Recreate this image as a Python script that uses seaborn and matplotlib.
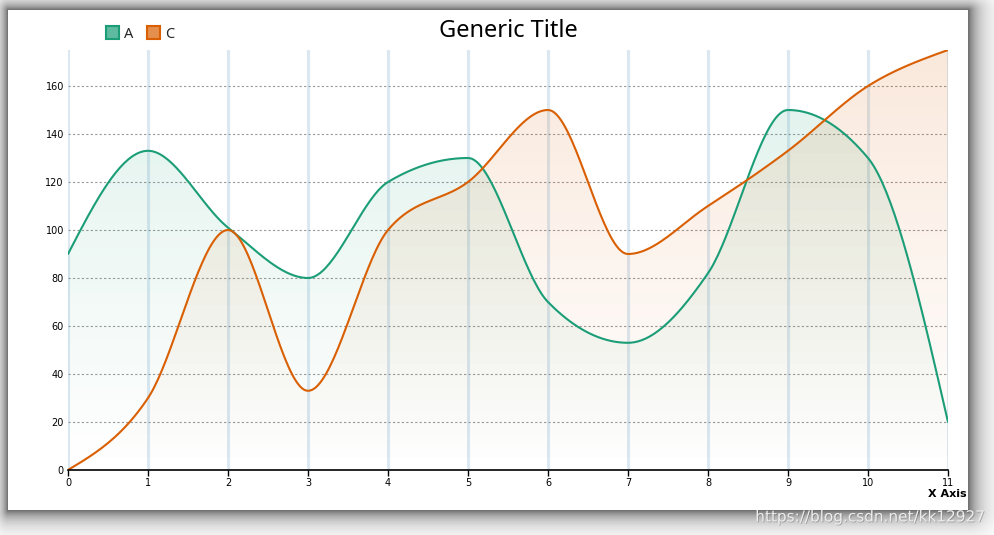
import numpy as np
import pandas as pd
import matplotlib
matplotlib.use('Agg')
import matplotlib.pyplot as plt
import seaborn as sns
from matplotlib.patches import Patch
from matplotlib.colors import to_rgb
import matplotlib.patheffects as pe

x_vals = list(range(12))
a_vals = [90, 133, 101, 80, 120, 130, 70, 53, 82, 150, 130, 20]
c_vals = [0, 30, 100, 33, 100, 120, 150, 90, 110, 133, 160, 175]
series_names = ['A', 'C']
y_ticks = [0, 20, 40, 60, 80, 100, 120, 140, 160]

palette = sns.color_palette('Dark2', 2)
col_a, col_c = palette[0], palette[1]


def monotone_curve(x, y, steps=40):
    # d3 style monotoneX, only used to draw the smooth line
    x = np.asarray(x, float)
    y = np.asarray(y, float)
    h = np.diff(x)
    s = np.diff(y) / h
    t = np.zeros(len(x))
    sgn = lambda v: -1.0 if v < 0 else 1.0
    for i in range(1, len(x) - 1):
        s0, s1 = s[i - 1], s[i]
        p = (s0 * h[i] + s1 * h[i - 1]) / (h[i - 1] + h[i])
        t[i] = (sgn(s0) + sgn(s1)) * min(abs(s0), abs(s1), 0.5 * abs(p))
    t[0] = (3 * s[0] - t[1]) / 2
    t[-1] = (3 * s[-1] - t[-2]) / 2
    xs, ys = [], []
    for i in range(len(x) - 1):
        u = np.linspace(0, 1, steps, endpoint=(i == len(x) - 2))
        h00 = 2 * u**3 - 3 * u**2 + 1
        h10 = u**3 - 2 * u**2 + u
        h01 = -2 * u**3 + 3 * u**2
        h11 = u**3 - u**2
        xs.append(x[i] + u * h[i])
        ys.append(h00 * y[i] + h10 * h[i] * t[i] + h01 * y[i + 1] + h11 * h[i] * t[i + 1])
    return np.concatenate(xs), np.concatenate(ys)


sns.set_theme(style='white')
plt.rcParams['font.family'] = ['DejaVu Sans']

W, H = 995, 535
fig = plt.figure(figsize=(W / 100, H / 100), dpi=100)
fig.patch.set_facecolor('white')

# window shadow around the white panel (panel: x 8..968, y 10..510 in pixels)
cols = np.arange(W)[None, :] + 0.5
rows = np.arange(H)[:, None] + 0.5
dx = np.maximum(np.maximum((8 - cols) / 8.0, (cols - 968) / 13.0), 0)
dy = np.maximum(np.maximum((10 - rows) / 9.0, (rows - 510) / 12.0), 0)
dist = np.sqrt(dx**2 + dy**2)
shade = 1 - 0.58 * np.exp(-dist * 1.1)
shade[dist == 0] = 1.0
bg = fig.add_axes([0, 0, 1, 1])
bg.imshow(shade, cmap='gray', vmin=0, vmax=1, aspect='auto', interpolation='nearest')
bg.set_axis_off()

ax = fig.add_axes([68 / W, 65 / H, 880 / W, 420 / H])
ax.patch.set_alpha(0)

# grids
for xv in x_vals:
    ax.axvline(xv, color='#dbe8f2', lw=2.2, zorder=1)
for yv in y_ticks[1:]:
    ax.axhline(yv, color='#9a9a9a', lw=0.8, ls=(0, (2, 2)), zorder=1)

df = pd.DataFrame({'x': x_vals, 'A': a_vals, 'C': c_vals})

for name, col in zip(series_names, [col_a, col_c]):
    cx, cy = monotone_curve(df['x'], df[name])
    # gradient fill under the line
    grad = np.zeros((256, 2, 4))
    grad[..., :3] = np.array(to_rgb(col))
    grad[..., 3] = np.linspace(0.14, 0.0, 256)[:, None]
    poly = ax.fill_between(cx, cy, 0, color='none', lw=0)
    im = ax.imshow(grad, extent=[0, 11, 0, 175], origin='upper', aspect='auto', zorder=2)
    im.set_clip_path(poly.get_paths()[0], transform=ax.transData)
    sns.lineplot(x=cx, y=cy, ax=ax, color=col, lw=1.5, sort=False, zorder=4)

ax.set_xlim(0, 11)
ax.set_ylim(0, 175)
ax.set_xticks(x_vals)
ax.set_yticks(y_ticks)
ax.tick_params(axis='x', direction='out', length=4, width=1, color='black',
               labelsize=7, labelcolor='black', pad=2, bottom=True)
ax.tick_params(axis='y', length=0, labelsize=7, labelcolor='black', pad=3, left=False)
for side in ['top', 'right', 'left']:
    ax.spines[side].set_visible(False)
ax.spines['bottom'].set_color('black')
ax.spines['bottom'].set_linewidth(1.2)
ax.spines['bottom'].set_zorder(5)
ax.set_xlabel('')
ax.set_ylabel('')

fig.text(508 / W, 1 - 31 / H, 'Generic Title', ha='center', va='center', fontsize=17,
         family=['Noto Sans', 'DejaVu Sans'], color='black')
fig.text(967 / W, 1 - 494 / H, 'X Axis', ha='right', va='center', fontsize=8,
         fontweight='bold', color='black')

handles = []
for c in [col_a, col_c]:
    rgb = np.array(to_rgb(c))
    handles.append(Patch(facecolor=rgb + (1 - rgb) * 0.3, edgecolor=c, lw=1.5))
fig.legend(handles, series_names, loc='center left',
           bbox_to_anchor=(106 / W, 1 - 34 / H), ncol=2, frameon=False,
           handlelength=0.9, handleheight=0.9, handletextpad=0.35,
           columnspacing=0.9, borderpad=0, borderaxespad=0,
           prop={'family': ['Noto Sans', 'DejaVu Sans'], 'size': 10.5})

fig.text(985 / W, 1 - 517 / H, 'https://blog.csdn.net/kk12927', ha='right', va='center',
         fontsize=11, color='#eeeeee',
         path_effects=[pe.withSimplePatchShadow(offset=(0.6, -0.6), alpha=0.35)])

fig.savefig('out.png', dpi=100)
